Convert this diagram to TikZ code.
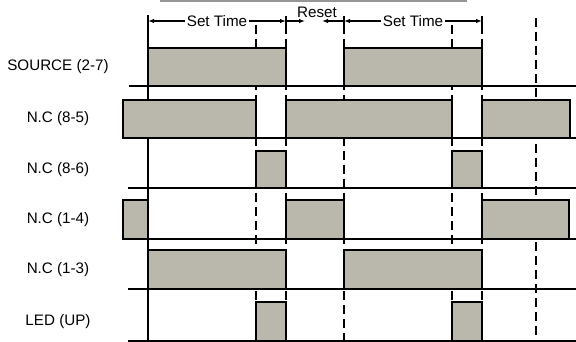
\documentclass[tikz,border=0pt]{standalone}
\usepackage{fontspec}
\setmainfont{Liberation Sans}
\usetikzlibrary{arrows.meta}
\definecolor{barfill}{RGB}{186,183,173}
\definecolor{topgray}{RGB}{150,150,150}
\begin{document}
\begin{tikzpicture}[x=1pt,y=-1pt,
  lbl/.style={font=\fontsize{15.2}{17}\selectfont, inner sep=0pt},
  dimtxt/.style={font=\fontsize{15.2}{17}\selectfont, fill=white, inner xsep=2pt, inner ysep=0pt},
  bar/.style={draw=black, line width=1.8pt, fill=barfill, line join=miter},
  baseln/.style={line width=1.5pt},
  guide/.style={line width=1.8pt, dash pattern=on 9pt off 5pt},
  solidv/.style={line width=1.8pt},
  dimln/.style={line width=1.2pt},
  tipb/.style={{Latex[length=6pt,width=4.5pt]}-{Latex[length=6pt,width=4.5pt]}},
  tipe/.style={-{Latex[length=6pt,width=4.5pt]}}
]
\useasboundingbox (0,0) rectangle (576,342);

% top gray edge
\draw[topgray, line width=1.5pt] (160,1) -- (467,1);

% dashed guides
\foreach \x in {256,286,344,452,482} \draw[guide] (\x,25) -- (\x,341);
\draw[guide] (536,18) -- (536,341);
% solid ticks of dimension
\foreach \x in {286,344,482} \draw[solidv] (\x,16) -- (\x,26);
% solid start line
\draw[solidv] (148,15) -- (148,341);

% baselines
\draw[baseln] (129,86) -- (576,86);
\draw[baseln] (123,138) -- (576,138);
\draw[baseln] (128,188) -- (576,188);
\draw[baseln] (123,239) -- (576,239);
\draw[baseln] (128,289) -- (576,289);
\draw[baseln] (128,341) -- (576,341);

% bars
% SOURCE
\draw[bar] (148,48) rectangle (286,86);
\draw[bar] (344,48) rectangle (482,86);
% N.C (8-5)
\draw[bar] (123,100) rectangle (256,138);
\draw[bar] (286,100) rectangle (452,138);
\draw[bar] (482,100) rectangle (570,138);
% N.C (8-6)
\draw[bar] (256,151) rectangle (286,188);
\draw[bar] (452,151) rectangle (482,188);
% N.C (1-4)
\draw[bar] (123,200) rectangle (148,239);
\draw[bar] (286,200) rectangle (344,239);
\draw[bar] (482,200) rectangle (569,239);
% N.C (1-3)
\draw[bar] (148,250) rectangle (286,289);
\draw[bar] (344,250) rectangle (482,289);
% LED
\draw[bar] (256,302) rectangle (286,341);
\draw[bar] (452,302) rectangle (482,341);

% dimension annotations
\coordinate (s1a) at (148,21);
\coordinate (s1b) at (286,21);
\coordinate (r1) at (305,21);
\coordinate (r2) at (322,21);
\coordinate (s2a) at (344,21);
\coordinate (s2b) at (482,21);
\draw[dimln, tipb] (s1a) -- (s1b);
\draw[dimln, tipe] (s1b) -- (r1);
\draw[dimln, tipe] (s2a) -- (r2);
\draw[dimln, tipb] (s2a) -- (s2b);
\node[dimtxt] (st1) at (217,21) {Set Time};
\node[dimtxt] (st2) at (413,21) {Set Time};
\node[lbl] (rst) at (317,12) {Reset};

% labels
\node[lbl] (l1) at (58,67) {SOURCE (2-7)};
\node[lbl] (l2) at (58,119) {N.C (8-5)};
\node[lbl] (l3) at (58,169.5) {N.C (8-6)};
\node[lbl] (l4) at (58,219.5) {N.C (1-4)};
\node[lbl] (l5) at (58,269.5) {N.C (1-3)};
\node[lbl] (l6) at (58,321.5) {LED (UP)};
\end{tikzpicture}
\end{document}
